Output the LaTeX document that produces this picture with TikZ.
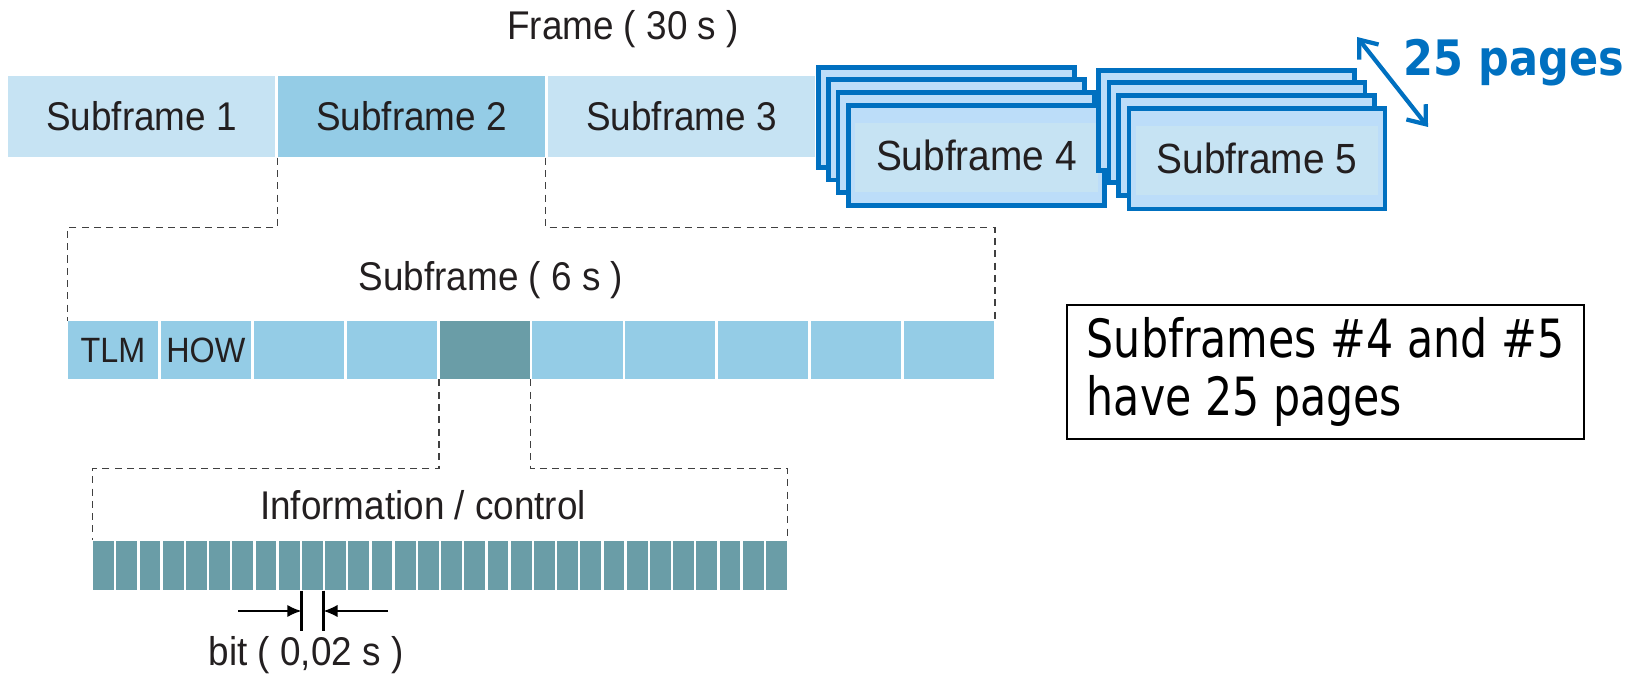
\documentclass[tikz,border=0pt]{standalone}
\usepackage{fontspec}
\setmainfont{Liberation Sans}[FakeStretch=0.92]
\newfontfamily\notefont{DejaVu Sans}[FakeStretch=0.81]
\newfontfamily\countfont{DejaVu Sans}[FakeStretch=0.88]
\usetikzlibrary{arrows.meta,calc}
\definecolor{sflight}{HTML}{C6E3F3}
\definecolor{sfmid}{HTML}{94CCE6}
\definecolor{sfdark}{HTML}{6A9DA7}
\definecolor{pageblue}{HTML}{0070C0}
\definecolor{pagefill}{HTML}{BCDDF9}
\definecolor{inkgray}{HTML}{231F20}

\begin{document}
\begin{tikzpicture}[x=0.01cm,y=-0.01cm]
\tikzstyle{lbl}=[text=inkgray, font=\fontsize{11.4}{13}\selectfont]
\tikzstyle{sub}=[lbl, minimum width=2.67cm, minimum height=0.81cm, inner sep=0pt]
\tikzstyle{word}=[minimum width=0.9cm, minimum height=0.575cm, inner sep=0pt, fill=sfmid, text=inkgray, font=\fontsize{10}{12}\selectfont]
\tikzstyle{bitcell}=[minimum width=0.207cm, minimum height=0.49cm, inner sep=0pt, fill=sfdark]
\tikzstyle{page}=[draw=pageblue, line width=1.3pt, fill=pagefill, minimum width=2.56cm, minimum height=1cm, inner sep=0pt, anchor=north west]
\tikzstyle{pagelbl}=[text=inkgray, font=\fontsize{12}{14}\selectfont]
\tikzstyle{guide}=[draw=black!75, line width=0.4pt, dash pattern=on 2pt off 1.5pt]
\tikzstyle{marker}=[draw=black, line width=0.7pt]
\tikzstyle{dim}=[-{Latex[length=4pt,width=3.5pt]}, draw=black, line width=0.45pt]
\tikzstyle{pagearrow}=[{Straight Barb[length=4.5pt,width=7pt]}-{Straight Barb[length=4.5pt,width=7pt]}, draw=pageblue, line width=1.2pt]

\useasboundingbox (0,0) rectangle (1637,677);

% frame and its subframes
\node[lbl] (frame) at (623,29) {Frame ( 30 s )};
\node[sub, fill=sflight] (sf1) at (141.5,116.5) {Subframe 1};
\node[sub, fill=sfmid] (sf2) at (411.5,116.5) {Subframe 2};
\node[sub, fill=sflight] (sf3) at (681.5,116.5) {Subframe 3};

% subframe 4, a stack of pages
\node[page] (p41) at (816,65) {};
\node[page] (p42) at (826,77.5) {};
\node[page] (p43) at (835.5,90) {};
\node[page] (sf4) at (846,103) {};
\fill[sflight] ($(sf4.north west)+(9,20)$) rectangle ($(sf4.south east)+(-9,-16)$);
\node[pagelbl] (sf4t) at (sf4.center) {Subframe 4};

% subframe 5, a stack of pages
\node[page] (p51) at (1096,68) {};
\node[page] (p52) at (1106.5,80) {};
\node[page] (p53) at (1116,93) {};
\node[page] (sf5) at (1126.5,106.5) {};
\fill[sflight] ($(sf5.north west)+(9,20)$) rectangle ($(sf5.south east)+(-9,-16)$);
\node[pagelbl] (sf5t) at (sf5.center) {Subframe 5};

\coordinate (pgA) at (1357,37);
\coordinate (pgB) at (1428,127);
\draw[pagearrow] (pgA) -- (pgB);
\node[text=pageblue, font=\countfont\bfseries\fontsize{13.9}{16}\selectfont] (npages) at (1514,63) {25 pages};

% one subframe = 10 words
\node[lbl] (sftitle) at (491,280) {Subframe ( 6 s )};
\node[word] (w1) at (113,350) {TLM};
\node[word] (w2) at (205.9,350) {HOW};
\node[word] (w3) at (298.8,350) {};
\node[word] (w4) at (391.7,350) {};
\node[word, fill=sfdark] (w5) at (484.6,350) {};
\node[word] (w6) at (577.5,350) {};
\node[word] (w7) at (670.4,350) {};
\node[word] (w8) at (763.3,350) {};
\node[word] (w9) at (856.2,350) {};
\node[word] (w10) at (949.1,350) {};

\draw[guide] (sf2.south west) -- ++(0,70) -| (w1.north west);
\draw[guide] (sf2.south east) -- ++(0,70) -| (w10.north east);

% one word = 30 bits
\node[lbl] (info) at (423,505) {Information / control};
\foreach \i in {1,...,30}
  \node[bitcell] (b\i) at ({92+23.2*(\i-0.5)},565.5) {};

\draw[guide] (w5.south west) -- ++(0,89) -| (b1.north west);
\draw[guide] (w5.south east) -- ++(0,89) -| (b30.north east);

% bit width
\draw[marker] (b10.south west) -- ++(0,40);
\draw[marker] (b10.south east) -- ++(0,40);
\coordinate (al) at (238,611);
\coordinate (ar) at (388,611);
\draw[dim] (al) -- (al -| b10.south west);
\draw[dim] (ar) -- (ar -| b10.south east);
\node[lbl] (bitlbl) at (306,655) {bit ( 0,02 s )};

% note
\node[draw=black, line width=0.6pt, minimum width=5.17cm, minimum height=1.335cm, align=left, inner sep=0pt, font=\notefont\fontsize{15}{16.3}\selectfont] (note) at (1325.5,372) {Subframes \#4 and \#5\\have 25 pages};
\end{tikzpicture}
\end{document}
